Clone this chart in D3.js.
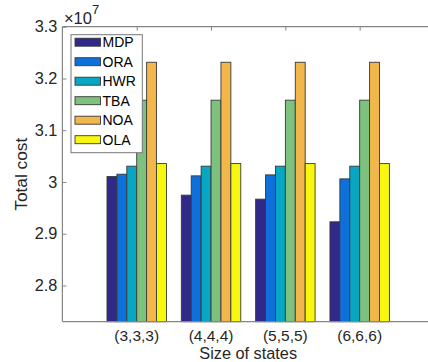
<!DOCTYPE html>
<html>
<head>
<meta charset="utf-8">
<script src="https://cdn.jsdelivr.net/npm/d3@7"></script>
<style>
  html, body { margin: 0; padding: 0; background: #fff; }
  svg { display: block; font-family: "Liberation Sans", Arial, Helvetica, sans-serif; }
</style>
</head>
<body>
<div id="chart"></div>
<script>
// Total cost per state size for six policies
const categories = ["(3,3,3)", "(4,4,4)", "(5,5,5)", "(6,6,6)"];
const seriesNames = ["MDP", "ORA", "HWR", "TBA", "NOA", "OLA"];
const MDP = [3.0104e7, 2.9745e7, 2.9668e7, 2.9230e7];
const ORA = [3.0150e7, 3.0118e7, 3.0137e7, 3.0060e7];
const HWR = [3.0305e7, 3.0305e7, 3.0305e7, 3.0305e7];
const TBA = [3.1580e7, 3.1580e7, 3.1580e7, 3.1580e7];
const NOA = [3.2313e7, 3.2313e7, 3.2313e7, 3.2313e7];
const OLA = [3.0355e7, 3.0355e7, 3.0355e7, 3.0355e7];
const yTicks = [2.8e7, 2.9e7, 3.0e7, 3.1e7, 3.2e7, 3.3e7];
const colors = ["#31298a", "#0d70db", "#07a6c2", "#7dc17e", "#f2b74a", "#f8f710"];

const series = [MDP, ORA, HWR, TBA, NOA, OLA];

const W = 428, H = 362;
const plotL = 62.4, plotR = 434, plotT = 26.7, plotB = 321.7;

const svg = d3.select("#chart").append("svg")
  .attr("width", W).attr("height", H);

// group positions 1..4 on a [0,5] axis, as in a grouped bar plot
const x = d3.scaleLinear().domain([0, 5]).range([plotL, plotR]);
const y = d3.scaleLinear().domain([2.73e7, 3.3e7]).range([plotB, plotT]);

const groupWidth = 0.8;
const barW = groupWidth / seriesNames.length;

// bars
const g = svg.append("g");
series.forEach((vals, s) => {
  g.selectAll(null).data(vals).enter().append("rect")
    .attr("x", (d, i) => x(i + 1 - groupWidth / 2 + s * barW))
    .attr("width", x(barW) - x(0))
    .attr("y", d => y(d))
    .attr("height", d => plotB - y(d))
    .attr("fill", colors[s])
    .attr("stroke", "#383838")
    .attr("stroke-width", 0.9);
});

const axisColor = "#858585";
const textColor = "#262626";

// axes with inward ticks
const yAxis = svg.append("g").attr("transform", `translate(${plotL},0)`)
  .call(d3.axisRight(y).tickValues(yTicks).tickSize(4).tickFormat(() => ""));
yAxis.select(".domain").remove();
yAxis.selectAll("line").attr("stroke", axisColor);

svg.append("g").selectAll("text").data(yTicks).enter().append("text")
  .attr("x", plotL - 5).attr("y", d => y(d))
  .attr("dy", "0.35em")
  .attr("text-anchor", "end")
  .attr("font-size", 16.3)
  .attr("fill", textColor)
  .text(d => d3.format(".2~f")(d / 1e7));

const xTop = svg.append("g").attr("transform", `translate(0,${plotT})`)
  .call(d3.axisBottom(x).tickValues([1, 2, 3, 4]).tickSize(4).tickFormat(() => ""));
xTop.select(".domain").remove();
xTop.selectAll("line").attr("stroke", axisColor);

// frame lines (left, top, bottom)
svg.append("line").attr("x1", plotL).attr("x2", plotL).attr("y1", plotT).attr("y2", plotB)
  .attr("stroke", axisColor).attr("stroke-width", 1.2);
svg.append("line").attr("x1", plotL).attr("x2", plotR).attr("y1", plotT).attr("y2", plotT)
  .attr("stroke", axisColor).attr("stroke-width", 1.2);
svg.append("line").attr("x1", plotL).attr("x2", plotR).attr("y1", plotB).attr("y2", plotB)
  .attr("stroke", axisColor).attr("stroke-width", 1.2);

// category labels
svg.append("g").selectAll("text").data(categories).enter().append("text")
  .attr("x", (d, i) => x(i + 1)).attr("y", 340.7)
  .attr("text-anchor", "middle")
  .attr("font-size", 15.5)
  .attr("fill", textColor)
  .text(d => d);

// axis titles
svg.append("text")
  .attr("x", (plotL + plotR) / 2).attr("y", 358.8)
  .attr("text-anchor", "middle").attr("font-size", 16.3)
  .attr("fill", textColor).text("Size of states");

svg.append("text")
  .attr("transform", `translate(27,${(plotT + plotB) / 2}) rotate(-90)`)
  .attr("text-anchor", "middle").attr("font-size", 17.3)
  .attr("fill", textColor).text("Total cost");

// exponent label
const ex = svg.append("text").attr("x", plotL + 1.5).attr("y", 24)
  .attr("font-size", 16.5).attr("fill", textColor);
ex.append("tspan").text("×10");
ex.append("tspan").attr("dy", -10).attr("font-size", 13).text("7");

// legend
const lg = svg.append("g");
lg.append("rect").attr("x", 71).attr("y", 34.7).attr("width", 71.3).attr("height", 118)
  .attr("fill", "#fff").attr("stroke", "#777").attr("stroke-width", 1);
seriesNames.forEach((name, s) => {
  const cy = 42.2 + s * 19.5;
  lg.append("rect").attr("x", 75).attr("y", cy - 4).attr("width", 25.5).attr("height", 8)
    .attr("fill", colors[s]).attr("stroke", "#383838").attr("stroke-width", 0.9);
  lg.append("text").attr("x", 102.5).attr("y", cy).attr("dy", "0.36em")
    .attr("font-size", 14).attr("fill", "#000").text(name);
});
</script>
</body>
</html>
